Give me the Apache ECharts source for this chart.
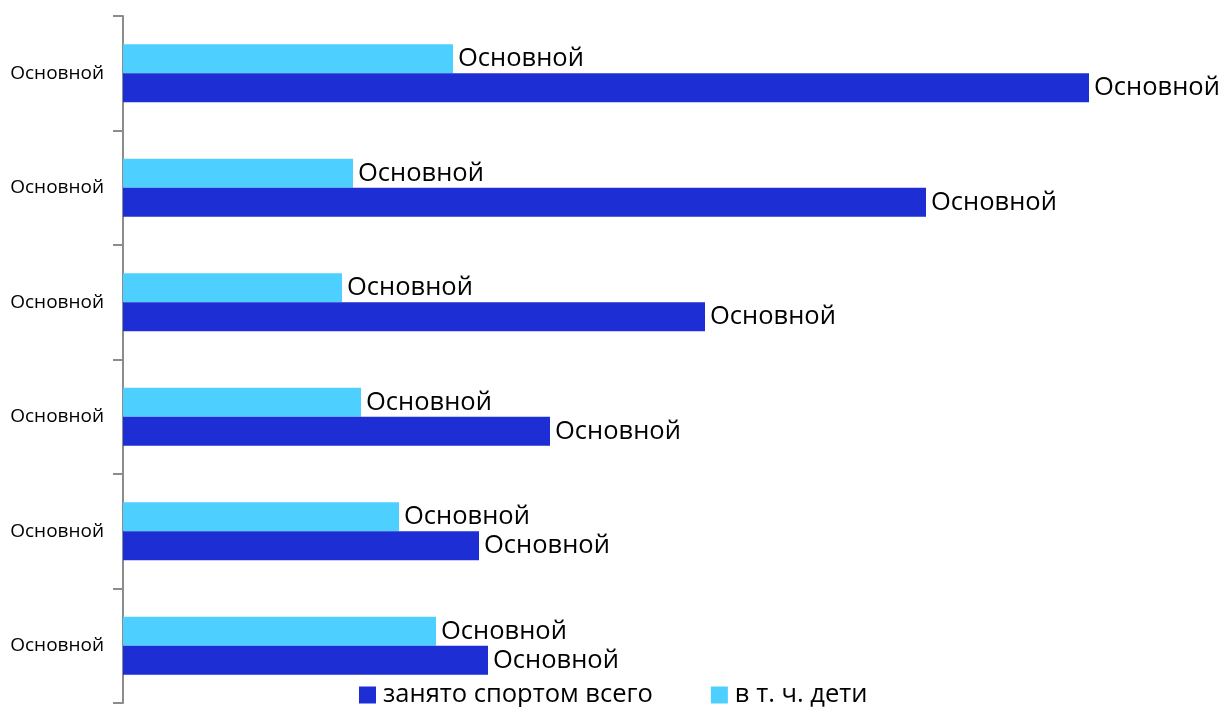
<!DOCTYPE html>
<html>
<head>
<meta charset="utf-8">
<script src="https://cdn.jsdelivr.net/npm/echarts@6/dist/echarts.min.js"></script>
<style>html,body{margin:0;padding:0;background:#fff}#c{width:1224px;height:707px}</style>
</head>
<body>
<div id="c"></div>
<script>
const categories = ['Основной','Основной','Основной','Основной','Основной','Основной'];
const seriesNames = ['занято спортом всего','в т. ч. дети'];
const totalValues = [966, 803, 582, 427, 356, 365];
const childValues = [330, 230, 219, 238, 276, 313];
const totalLabels = ['Основной','Основной','Основной','Основной','Основной','Основной'];
const childLabels = ['Основной','Основной','Основной','Основной','Основной','Основной'];

const FONT = '"Open Sans", sans-serif';
const chart = echarts.init(document.getElementById('c'), null, {renderer:'canvas'});
function lbl(arr){
  return {show:true, position:'right', distance:5, color:'#000', fontSize:25.5, fontFamily:FONT,
    formatter: p => arr[p.dataIndex]};
}
chart.setOption({
  animation:false,
  textStyle:{fontFamily:FONT},
  grid:{left:123, top:16, bottom:4, width:1000, containLabel:false},
  legend:{
    data:seriesNames, left:354, top:677, icon:'rect', itemWidth:17, itemHeight:17, itemGap:58,
    textStyle:{fontSize:25.5, color:'#000', fontFamily:FONT, padding:[0,0,0,2]}
  },
  xAxis:{type:'value', min:0, max:1000, show:false},
  yAxis:{
    type:'category', data:categories, inverse:true,
    axisLine:{show:true, lineStyle:{color:'#8c8c8c', width:2}},
    axisTick:{show:true, length:10, lineStyle:{color:'#8c8c8c', width:2}},
    axisLabel:{fontSize:19, color:'#000', margin:19, fontFamily:FONT}
  },
  series:[
    {name:seriesNames[1], type:'bar', data:childValues, barWidth:29, barGap:'0%',
      itemStyle:{color:'#4dcfff'}, label:lbl(childLabels)},
    {name:seriesNames[0], type:'bar', data:totalValues, barWidth:29, barGap:'0%',
      itemStyle:{color:'#1c2ed4'}, label:lbl(totalLabels)}
  ]
});
</script>
</body>
</html>
